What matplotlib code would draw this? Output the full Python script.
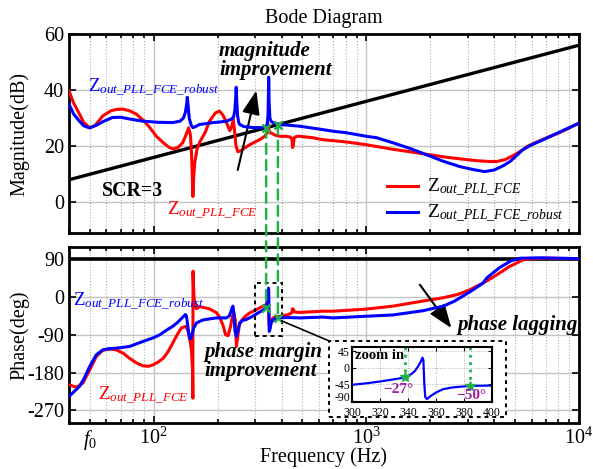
import numpy as np
import matplotlib
matplotlib.use('Agg')
import matplotlib.pyplot as plt
from matplotlib.patches import Rectangle, ConnectionPatch
from matplotlib.lines import Line2D
from matplotlib.ticker import FixedLocator, FixedFormatter, LogLocator, NullFormatter, FuncFormatter

plt.rcParams['font.family'] = ['Liberation Serif', 'DejaVu Serif']
plt.rcParams['mathtext.fontset'] = 'custom'
plt.rcParams['mathtext.rm'] = 'Liberation Serif'
plt.rcParams['mathtext.it'] = 'Liberation Serif:italic'
plt.rcParams['mathtext.bf'] = 'Liberation Serif:bold'
plt.rcParams['axes.unicode_minus'] = False

# ---------------- data ----------------
scr_f = [40, 10000]
scr_mag = [8, 56]
scr_phase = 90

red_mag_f = [40, 42, 44.8, 47, 50, 53, 57.7, 63, 67, 71.7, 77, 83, 90, 96, 103, 111, 118, 123, 130, 137,
             142, 146, 149, 151, 152.5, 153, 154, 156, 160, 165, 175, 183, 195, 204, 212, 220, 228, 233, 237, 240,
             244, 249, 256, 270, 283, 300, 315, 333, 340, 345, 348, 352, 358, 370, 392, 420, 440, 447, 450, 453,
             458, 470, 486, 560, 623, 800, 1000, 1300, 1600, 1985, 2400, 2800, 3300, 3800, 4100, 4500, 5000, 5440,
             5700, 6800, 8100, 10000]
red_mag = [39.7, 35.5, 31.4, 28.3, 26.6, 27.3, 30.8, 32.6, 33.1, 33.2, 32.6, 31.4, 29, 26.6, 23.5, 21.2, 19.6, 19, 19.5, 21.2,
           24, 26.5, 24, 16, 6, 2, 8, 14, 19, 21.5, 25, 28.9, 31.8, 32.5, 31, 28.4, 25.5, 27, 29.6, 25.5,
           20, 18, 18.3, 19.5, 20.5, 21.5, 22.3, 23.5, 24.5, 28, 26, 24.7, 24.7, 24, 23.5, 23.5, 23.2, 22.5, 19.5, 20,
           23, 23.5, 23.5, 23, 22.3, 21.5, 20.5, 19, 18, 16.9, 16, 15.4, 14.8, 14.5, 14.5, 15.2, 17, 18.7,
           19.9, 22.5, 24.8, 28.2]

blue_mag_f = [40, 42, 44.8, 47, 50, 54, 58, 64, 70, 78, 89, 105, 123, 133, 138, 141, 143, 144, 145, 147,
              150, 153, 158, 164, 175, 190, 205, 220, 232, 238, 241, 243, 244.5, 246, 248, 251, 254, 265, 293, 327,
              338, 342, 345, 346.5, 347.5, 349, 352, 357, 364, 392, 440, 486, 623, 698, 800, 1000, 1117, 1333, 1600, 1985,
              2300, 2750, 3200, 3600, 4000, 4400, 4740, 5440, 6000, 6800, 8100, 10000]
blue_mag = [35, 31.5, 28.9, 27.2, 26.5, 27.5, 28.8, 30.2, 30.3, 29.6, 28.9, 28.5, 28.4, 28.9, 30, 32, 35, 37.4, 35, 30,
            27.5, 26.6, 27, 27.7, 28, 28.4, 28.6, 28.9, 29.6, 30.5, 33, 37, 41, 36, 31, 28.5, 27.7, 27, 26.6, 26.6,
            26.8, 28, 31, 38, 44.6, 36, 30, 28.8, 28.4, 27.7, 27.4, 27.1, 25.9, 25.3, 24.8, 23.5, 23, 21.2, 19.2, 16.5,
            14.6, 12.7, 11.6, 10.9, 11.5, 13, 14.5, 18.7, 20.5, 22.3, 25, 28.2]

red_ph_f = [40, 43.3, 46.5, 50, 53.7, 57.7, 62, 66.7, 72, 77, 83, 89, 95, 99, 105, 111, 117, 123, 129, 135,
            141.7, 145, 148, 150.5, 152.3, 152.9, 153.2, 153.6, 155, 159, 165, 171, 182, 190, 198, 205, 212, 218, 224, 230,
            235, 239, 242, 245, 248.5, 253, 260, 270, 283, 305, 326, 336, 342, 345, 347, 349, 353, 364, 392, 430,
            446, 450, 454, 460, 486, 624, 698, 1000, 1333, 1840, 2300, 2700, 3070, 3540, 3800, 4240, 4700, 5110, 5450, 6070,
            7000, 10000]
red_ph = [-209, -215, -205, -174, -142, -127, -124, -126, -134, -146, -157, -164, -165, -162, -155, -146, -130, -110, -90, -74,
          -70, -80, -102, -125, -170, -241, 61, 40, -5, -28, -23, -25, -28, -33, -38, -50, -68, -90, -92, -70,
          -45, -40, -55, -118, -95, -66, -55, -46, -38, -30, -22, -20, -12, 3, -30, -68, -62, -50, -46, -42,
          -38, -28, -30, -36, -37, -34, -34, -29, -22, -10, -2, 6, 17, 33, 42, 57, 72, 81, 88, 91,
          92, 91]

blue_ph_f = [40, 44.8, 47, 50, 53.7, 57.7, 62, 66.7, 77, 89, 100, 107, 115, 123, 130, 136, 141, 142.5, 144, 146,
             148, 150, 154, 159, 170, 185, 197, 210, 220, 227, 231, 234, 236, 238.5, 241, 245, 249, 254, 262, 272,
             290, 310, 326, 336, 341, 344, 346, 347, 348, 349.5, 352, 357, 365, 382, 420, 487, 624, 698, 1000, 1333,
             1840, 2300, 2600, 3070, 3540, 3700, 4240, 4800, 5300, 6600, 10000]
blue_ph = [-237, -213, -195, -166, -138, -126, -123, -122, -118, -106, -97, -90, -79, -70, -60, -50, -42, -45, -60, -85,
           -100, -98, -75, -62, -55, -52, -50, -50, -50, -45, -35, -25, -22, -40, -80, -94, -80, -62, -56, -54,
           -47, -38, -32, -27, -18, -5, 12, 21, 0, -82, -78, -62, -54, -50, -49, -50, -48, -50, -46, -43,
           -33, -22, -10, 12, 33, 46, 70, 86, 92, 93, 91]

inset_f = [300, 310, 320, 330, 338, 342, 345, 347, 349, 350.3, 351, 351.6, 352.3, 353.5, 356, 360, 365, 372, 384, 392, 400]
inset_ph = [-47, -43, -38, -32, -27, -19, -9, 2, 15, 27, 20, -40, -80, -86, -78, -68, -59, -54, -50, -49.5, -49]

pm_f = [338, 384]            # phase-margin crossing frequencies (Hz)
pm_mag = [26.6, 27.7]        # magnitude at crossings (dB)
pm_ph = [-27, -50]           # phase at crossings (deg)
pm_labels = ['\u221227\u00b0', '\u221250\u00b0']

mag_ticks = [0, 20, 40, 60]
ph_ticks = [90, 0, -90, -180, -270]
x_major = [100, 1000, 10000]
x_major_labels = ['$10^2$', '$10^3$', '$10^4$']
f0 = 50
inset_xticks = [300, 320, 340, 360, 380, 400]
inset_yticks = [45, 0, -45, -90]

RED = '#ff0000'
BLUE = '#0000ff'
GREEN = '#22b04a'
PURPLE = '#a01fa0'
FS = 14.5
ZFS = 13.5

W, H = 593, 469
fig = plt.figure(figsize=(W / 100, H / 100), dpi=100)
ax1 = fig.add_axes([69 / W, 1 - 233 / H, 510 / W, 199 / H])
ax2 = fig.add_axes([69 / W, 1 - 423 / H, 510 / W, 175.7 / H])


def style(ax):
    ax.set_xscale('log')
    ax.set_xlim(40, 1e4)
    ax.xaxis.set_major_locator(FixedLocator(x_major))
    ax.xaxis.set_minor_locator(LogLocator(base=10, subs=np.arange(2, 10) * 1.0, numticks=20))
    ax.grid(True, which='major', color='#c4c4c4', lw=1.0, ls='-')
    ax.grid(True, which='minor', axis='x', color='#b0b0b0', lw=0.8, ls=':')
    ax.tick_params(which='both', direction='in', top=True, right=True, labelsize=FS, width=1.2)
    ax.tick_params(which='major', length=5)
    ax.tick_params(which='minor', length=3)
    for s in ax.spines.values():
        s.set_linewidth(2)
    ax.set_axisbelow(True)


style(ax1)
style(ax2)

# ---- magnitude ----
ax1.plot(scr_f, scr_mag, color='k', lw=2.4, zorder=2)
ax1.plot(red_mag_f, red_mag, color=RED, lw=2.2, zorder=3)
ax1.plot(blue_mag_f, blue_mag, color=BLUE, lw=2.2, zorder=4)
ax1.set_ylim(-11, 60)
ax1.set_yticks(mag_ticks)
ax1.tick_params(labelbottom=False)
ax1.xaxis.set_minor_formatter(NullFormatter())
ax1.set_ylabel('Magnitude(dB)', fontsize=FS)
ax1.yaxis.set_label_coords(-0.078, 0.5)
ax1.set_title('Bode Diagram', fontsize=FS, pad=8)

ax1.text(48.9, 39.6, r'$\mathrm{Z}_{out\_PLL\_FCE\_robust}$', color=BLUE, fontsize=ZFS, va='baseline')
ax1.text(116, -4.5, r'$\mathrm{Z}_{out\_PLL\_FCE}$', color=RED, fontsize=ZFS, va='baseline')
ax1.text(57, 4.0, 'SCR=3', fontsize=14.3, fontweight='bold', va='center')
ax1.text(203, 50.5, 'magnitude\nimprovement', fontsize=15, fontweight='bold', fontstyle='italic',
         ha='left', va='center', linespacing=0.95)
ax1.annotate('', xy=(304, 39.8), xytext=(248.6, 11.5),
             arrowprops=dict(arrowstyle='-|>,head_length=0.8,head_width=0.3', color='k', lw=1.5,
                             mutation_scale=18, shrinkA=0, shrinkB=0))
ax1.plot(pm_f, pm_mag, 'x', color=GREEN, ms=6, mew=1.8, zorder=6)

leg = ax1.legend([Line2D([], [], color=RED, lw=2.2), Line2D([], [], color=BLUE, lw=2.2)],
                 [r'$\mathrm{Z}_{out\_PLL\_FCE}$', r'$\mathrm{Z}_{out\_PLL\_FCE\_robust}$'],
                 loc='lower right', frameon=False, fontsize=14, handlelength=1.6, handletextpad=0.45,
                 labelspacing=0.2, borderaxespad=0.0, bbox_to_anchor=(0.985, 0.0))

# ---- phase ----
ax2.axhline(scr_phase, color='k', lw=2.6, zorder=2)
ax2.plot(red_ph_f, red_ph, color=RED, lw=2.2, zorder=3)
ax2.plot(blue_ph_f, blue_ph, color=BLUE, lw=2.2, zorder=4)
ax2.set_ylim(-300, 118)
ax2.set_yticks(ph_ticks)
ax2.xaxis.set_major_formatter(FixedFormatter(x_major_labels))
ax2.xaxis.set_minor_formatter(FuncFormatter(lambda v, p: '$f_0$' if abs(v - f0) < 1e-6 else ''))
ax2.set_ylabel('Phase(deg)', fontsize=FS)
ax2.yaxis.set_label_coords(-0.078, 0.5)
ax2.set_xlabel('Frequency (Hz)', fontsize=FS)
ax2.xaxis.set_label_coords(0.5, -0.14)

ax2.text(41.6, -21, r'$\mathrm{Z}_{out\_PLL\_FCE\_robust}$', color=BLUE, fontsize=ZFS, va='baseline')
ax2.text(54.6, -245, r'$\mathrm{Z}_{out\_PLL\_FCE}$', color=RED, fontsize=ZFS, va='baseline')
ax2.text(174, -153, 'phase margin\nimprovement', fontsize=15, fontweight='bold', fontstyle='italic',
         ha='left', va='center', linespacing=0.95)
ax2.text(2690, -68, 'phase lagging', fontsize=15, fontweight='bold', fontstyle='italic', ha='left', va='center')
ax2.annotate('', xy=(2510, -74), xytext=(1786, 29),
             arrowprops=dict(arrowstyle='-|>,head_length=0.8,head_width=0.3', color='k', lw=1.5,
                             mutation_scale=18, shrinkA=0, shrinkB=0))
ax2.plot(pm_f, pm_ph, 'x', color=GREEN, ms=6, mew=1.8, zorder=6)
ax2.add_patch(Rectangle((300, -92), 100, 125, fill=False, ec='k', lw=1.4, ls=(0, (2, 2)), zorder=5))

# green dashed links magnitude -> phase
for f, m, p in zip(pm_f, pm_mag, pm_ph):
    con = ConnectionPatch(xyA=(f, m), coordsA=ax1.transData, xyB=(f, p), coordsB=ax2.transData,
                          color=GREEN, lw=1.8, ls=(0, (4, 2.5)), zorder=5)
    fig.add_artist(con)

# inset box + connector
box = Rectangle((329.3 / W, 1 - 416.7 / H), 176.7 / W, 75.7 / H, transform=fig.transFigure,
                fc='white', ec='k', lw=1.4, ls=(0, (2, 2)), zorder=5)
fig.add_artist(box)
con = ConnectionPatch(xyA=(400, -57), coordsA=ax2.transData, xyB=(329.3 / W, 1 - 341 / H),
                      coordsB=fig.transFigure, color='k', lw=1.2, zorder=5)
fig.add_artist(con)

axin = fig.add_axes([352 / W, 1 - 401.7 / H, 140 / W, 54.7 / H])
axin.set_zorder(6)
axin.plot(inset_f, inset_ph, color=BLUE, lw=1.6)
axin.set_xlim(300, 400)
axin.set_ylim(-93, 56)
axin.set_xticks(inset_xticks)
axin.set_yticks(inset_yticks)
axin.grid(True, color='#b0b0b0', lw=0.7, ls=':')
axin.tick_params(direction='in', labelsize=8.5, length=3, top=True, right=True)
axin.tick_params(axis='x', pad=3.5)
axin.tick_params(axis='y', pad=1.5)
for lab in axin.get_yticklabels():
    if lab.get_text() == '-90':
        lab.set_va('baseline')
for s in axin.spines.values():
    s.set_linewidth(1.5)
for f, p in zip(pm_f, pm_ph):
    axin.plot([f, f], [56, p], ':', color=GREEN, lw=2)
axin.plot(pm_f, pm_ph, '*', color=GREEN, ms=7)
axin.text(333, -60, pm_labels[0], color=PURPLE, fontsize=11, fontweight='bold', ha='center', va='center')
axin.text(385, -76, pm_labels[1], color=PURPLE, fontsize=11, fontweight='bold', ha='center', va='center',
          clip_on=False)
axin.text(302, 33, 'zoom in', fontsize=10.5, fontweight='bold', va='center')

fig.savefig('out.png', dpi=100)
